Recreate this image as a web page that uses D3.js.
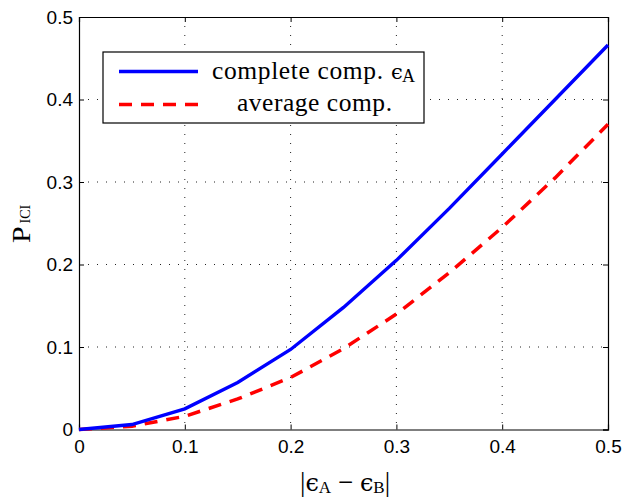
<!DOCTYPE html>
<html>
<head>
<meta charset="utf-8">
<script src="https://cdn.jsdelivr.net/npm/d3@7"></script>
<style>
  body { margin: 0; background: #fff; overflow: hidden; }
  svg { display: block; }
  .tick text { font-family: 'Liberation Sans', Arial, sans-serif; font-size: 19px; fill: #000; }
</style>
</head>
<body>
<div id="chart"></div>
<script>
const xValues = [0, 0.05, 0.1, 0.15, 0.2, 0.25, 0.3, 0.35, 0.4, 0.45, 0.5]
const completeComp = [0, 0.006, 0.025, 0.057, 0.097, 0.148, 0.205, 0.268, 0.334, 0.400, 0.466]
const averageComp = [0, 0.004, 0.016, 0.037, 0.063, 0.098, 0.140, 0.190, 0.245, 0.305, 0.370]
const xTicks = [0, 0.1, 0.2, 0.3, 0.4, 0.5]
const yTicks = [0, 0.1, 0.2, 0.3, 0.4, 0.5]

const width = 635
const height = 498
const margin = { left: 79, top: 17, right: 27, bottom: 68.5 }
const innerWidth = width - margin.left - margin.right
const innerHeight = height - margin.top - margin.bottom

const svg = d3.select('#chart').append('svg')
  .attr('width', width)
  .attr('height', height)

const chart = svg.append('g').attr('transform', `translate(${margin.left}, ${margin.top})`)

const xScale = d3.scaleLinear().domain([0, 0.5]).range([0, innerWidth])
const yScale = d3.scaleLinear().domain([0, 0.5]).range([innerHeight, 0])

// dotted grid
chart.append('g').selectAll('line')
  .data(xTicks.slice(1, -1))
  .join('line')
  .attr('x1', d => xScale(d)).attr('x2', d => xScale(d))
  .attr('y1', 0).attr('y2', innerHeight)
  .attr('stroke', '#222').attr('stroke-width', 1).attr('stroke-dasharray', '1,8')

chart.append('g').selectAll('line')
  .data(yTicks.slice(1, -1))
  .join('line')
  .attr('y1', d => yScale(d)).attr('y2', d => yScale(d))
  .attr('x1', 0).attr('x2', innerWidth)
  .attr('stroke', '#222').attr('stroke-width', 1).attr('stroke-dasharray', '1,8')

// axes, ticks pointing inward like matlab
const fmt = d => d === 0 ? '0' : d3.format('.1f')(d)
const xAxis = d3.axisBottom(xScale).tickValues(xTicks).tickSize(-5).tickPadding(10).tickFormat(fmt)
const yAxis = d3.axisLeft(yScale).tickValues(yTicks).tickSize(-5).tickPadding(6).tickFormat(fmt)

chart.append('g').attr('transform', `translate(0, ${innerHeight})`).call(xAxis)
chart.append('g').call(yAxis)
chart.append('g').call(d3.axisTop(xScale).tickValues(xTicks).tickSize(-5))
  .selectAll('text').remove()
chart.append('g').attr('transform', `translate(${innerWidth}, 0)`)
  .call(d3.axisRight(yScale).tickValues(yTicks).tickSize(-5))
  .selectAll('text').remove()

chart.selectAll('.domain').attr('stroke', '#000').attr('stroke-width', 1.2)
chart.selectAll('.tick line').attr('stroke', '#000')

const line = d3.line().x((d, i) => xScale(xValues[i])).y(d => yScale(d))

chart.append('path')
  .datum(averageComp)
  .attr('d', line)
  .attr('fill', 'none')
  .attr('stroke', '#ff0000')
  .attr('stroke-width', 3.5)
  .attr('stroke-dasharray', '13,9')

chart.append('path')
  .datum(completeComp)
  .attr('d', line)
  .attr('fill', 'none')
  .attr('stroke', '#0000ff')
  .attr('stroke-width', 3.4)

// legend
const serif = "'Liberation Serif', 'Times New Roman', serif"
const greek = "'DejaVu Serif', serif"

const legend = svg.append('g')
legend.append('rect')
  .attr('x', 103).attr('y', 52).attr('width', 321).attr('height', 71)
  .attr('fill', '#fff').attr('stroke', '#000').attr('stroke-width', 1.2)
legend.append('line')
  .attr('x1', 119).attr('x2', 198).attr('y1', 71.5).attr('y2', 71.5)
  .attr('stroke', '#0000ff').attr('stroke-width', 3.4)
legend.append('line')
  .attr('x1', 119).attr('x2', 198).attr('y1', 104.5).attr('y2', 104.5)
  .attr('stroke', '#ff0000').attr('stroke-width', 3.5).attr('stroke-dasharray', '13,9')

legend.append('text').attr('x', 212).attr('y', 79)
  .attr('font-family', serif).attr('font-size', 25.5)
  .attr('textLength', 171).attr('lengthAdjust', 'spacing')
  .text('complete comp.')
const t1 = legend.append('text').attr('x', 391).attr('y', 79)
  .attr('font-family', serif)
t1.append('tspan').attr('font-family', greek).attr('font-size', 21).text('ϵ')
t1.append('tspan').attr('x', 402).attr('dy', 3).attr('font-size', 18).text('A')
legend.append('text').attr('x', 237).attr('y', 111)
  .attr('font-family', serif).attr('font-size', 25.5)
  .attr('textLength', 155).attr('lengthAdjust', 'spacing')
  .text('average comp.')

// y label
const yl = svg.append('g').attr('transform', 'translate(30, 243) rotate(-90)')
yl.append('text').attr('transform', 'scale(1.2, 1)')
  .attr('font-family', serif).attr('font-size', 25)
  .text('P')
yl.append('text').attr('x', 19.5)
  .attr('font-family', serif).attr('font-size', 14)
  .text('ICI')

// x label
const xl = svg.append('text')
  .attr('x', 300).attr('y', 491)
  .attr('font-family', serif).attr('font-size', 27)
xl.append('tspan').text('|')
xl.append('tspan').attr('font-family', greek).attr('font-size', 24).text('ϵ')
xl.append('tspan').attr('dy', 2).attr('font-size', 17).text('A')
xl.append('tspan').attr('dy', -2).text(' − ')
xl.append('tspan').attr('font-family', greek).attr('font-size', 24).text('ϵ')
xl.append('tspan').attr('dy', 2).attr('font-size', 17).text('B')
xl.append('tspan').attr('dy', -2).text('|')
</script>
</body>
</html>
